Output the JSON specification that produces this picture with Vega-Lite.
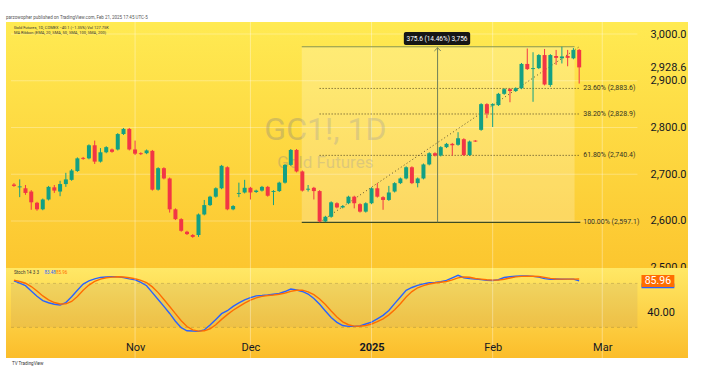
{
"$schema": "https://vega.github.io/schema/vega-lite/v6.json",
"width": 682, "height": 336,
"autosize": {"type": "none"},
"padding": {"left": 6, "top": 22, "right": 13, "bottom": 13},
"background": "#FFFFFF",
"title": {"text": "parzowopher published on TradingView.com, Feb 21, 2025 17:45 UTC-5", "anchor": "start", "frame": "group", "fontSize": 4.5, "font": "Roboto", "fontWeight": "normal", "color": "#555555", "offset": 2},
"view": {"stroke": null, "fill": {"gradient": "linear", "x1": 0, "y1": 0, "x2": 0, "y2": 1, "stops": [{"offset": 0, "color": "#FFEA52"}, {"offset": 0.73, "color": "#FCC62F"}, {"offset": 1, "color": "#FBBE2A"}]}},
"config": {"font": "Roboto", "axis": {"grid": false, "domain": false, "ticks": false, "labelFont": "Roboto", "labelFontSize": 11, "labelColor": "#131722", "titleFontSize": 0}, "view": {"stroke": null}},
"datasets": {
"bars": [
{"i":0,"o":2678,"h":2681,"l":2673,"c":2675,"k":83.4,"d":84.5},
{"i":1,"o":2672,"h":2689,"l":2651,"c":2674,"k":80.4,"d":82.5},
{"i":2,"o":2670,"h":2677,"l":2656,"c":2660,"k":76.9,"d":80.2},
{"i":3,"o":2663,"h":2666,"l":2624,"c":2640,"k":69.7,"d":75.7},
{"i":4,"o":2639,"h":2641,"l":2622,"c":2625,"k":62.5,"d":69.7},
{"i":5,"o":2625,"h":2648,"l":2623,"c":2646,"k":56.6,"d":62.9},
{"i":6,"o":2646,"h":2675,"l":2644,"c":2673,"k":53.6,"d":57.6},
{"i":7,"o":2672,"h":2677,"l":2660,"c":2665,"k":51.6,"d":53.9},
{"i":8,"o":2663,"h":2686,"l":2653,"c":2679,"k":50.5,"d":51.9},
{"i":9,"o":2679,"h":2703,"l":2673,"c":2689,"k":53.8,"d":52.0},
{"i":10,"o":2688,"h":2711,"l":2686,"c":2708,"k":61.8,"d":55.4},
{"i":11,"o":2707,"h":2736,"l":2705,"c":2734,"k":70.7,"d":62.1},
{"i":12,"o":2735,"h":2737,"l":2731,"c":2733,"k":79.0,"d":70.5},
{"i":13,"o":2734,"h":2764,"l":2732,"c":2762,"k":83.4,"d":77.7},
{"i":14,"o":2762,"h":2772,"l":2722,"c":2727,"k":86.1,"d":82.8},
{"i":15,"o":2727,"h":2756,"l":2725,"c":2747,"k":88.1,"d":85.9},
{"i":16,"o":2747,"h":2760,"l":2745,"c":2758,"k":88.7,"d":87.6},
{"i":17,"o":2753,"h":2755,"l":2746,"c":2748,"k":89.1,"d":88.6},
{"i":18,"o":2753,"h":2788,"l":2751,"c":2786,"k":89.1,"d":89.0},
{"i":19,"o":2786,"h":2799,"l":2784,"c":2797,"k":87.9,"d":88.7},
{"i":20,"o":2797,"h":2799,"l":2751,"c":2753,"k":86.2,"d":87.7},
{"i":21,"o":2753,"h":2772,"l":2741,"c":2744,"k":84.9,"d":86.3},
{"i":22,"o":2745,"h":2747,"l":2741,"c":2743,"k":81.3,"d":84.1},
{"i":23,"o":2745,"h":2753,"l":2743,"c":2751,"k":76.8,"d":81.0},
{"i":24,"o":2750,"h":2752,"l":2665,"c":2667,"k":67.4,"d":75.2},
{"i":25,"o":2667,"h":2715,"l":2665,"c":2713,"k":58.0,"d":67.4},
{"i":26,"o":2713,"h":2715,"l":2689,"c":2691,"k":48.6,"d":58.0},
{"i":27,"o":2691,"h":2693,"l":2618,"c":2625,"k":39.0,"d":48.5},
{"i":28,"o":2625,"h":2627,"l":2602,"c":2604,"k":28.4,"d":38.7},
{"i":29,"o":2604,"h":2606,"l":2577,"c":2579,"k":19.5,"d":29.0},
{"i":30,"o":2577,"h":2579,"l":2570,"c":2572,"k":15.3,"d":21.1},
{"i":31,"o":2570,"h":2572,"l":2564,"c":2566,"k":15.0,"d":16.6},
{"i":32,"o":2570,"h":2616,"l":2566,"c":2614,"k":14.5,"d":14.9},
{"i":33,"o":2614,"h":2645,"l":2612,"c":2634,"k":16.5,"d":15.3},
{"i":34,"o":2634,"h":2654,"l":2632,"c":2652,"k":23.2,"d":18.1},
{"i":35,"o":2652,"h":2672,"l":2650,"c":2670,"k":30.8,"d":23.5},
{"i":36,"o":2670,"h":2720,"l":2668,"c":2718,"k":38.7,"d":30.9},
{"i":37,"o":2715,"h":2717,"l":2623,"c":2625,"k":42.7,"d":37.4},
{"i":38,"o":2625,"h":2634,"l":2623,"c":2632,"k":48.7,"d":43.4},
{"i":39,"o":2658,"h":2682,"l":2651,"c":2660,"k":53.3,"d":48.2},
{"i":40,"o":2661,"h":2688,"l":2659,"c":2671,"k":57.4,"d":53.1},
{"i":41,"o":2671,"h":2673,"l":2646,"c":2661,"k":60.6,"d":57.1},
{"i":42,"o":2662,"h":2667,"l":2660,"c":2665,"k":62.9,"d":60.3},
{"i":43,"o":2665,"h":2675,"l":2663,"c":2673,"k":63.4,"d":62.3},
{"i":44,"o":2673,"h":2675,"l":2652,"c":2654,"k":64.1,"d":63.5},
{"i":45,"o":2662,"h":2666,"l":2634,"c":2664,"k":65.1,"d":64.2},
{"i":46,"o":2664,"h":2684,"l":2662,"c":2682,"k":66.2,"d":65.1},
{"i":47,"o":2682,"h":2722,"l":2680,"c":2720,"k":68.9,"d":66.7},
{"i":48,"o":2720,"h":2754,"l":2718,"c":2752,"k":72.3,"d":69.1},
{"i":49,"o":2752,"h":2754,"l":2704,"c":2706,"k":70.9,"d":70.7},
{"i":50,"o":2706,"h":2708,"l":2663,"c":2665,"k":69.0,"d":70.7},
{"i":51,"o":2667,"h":2677,"l":2663,"c":2669,"k":65.5,"d":68.5},
{"i":52,"o":2671,"h":2673,"l":2646,"c":2664,"k":59.5,"d":64.7},
{"i":53,"o":2664,"h":2666,"l":2597.1,"c":2599,"k":51.4,"d":58.8},
{"i":54,"o":2599,"h":2611,"l":2597.5,"c":2609,"k":42.3,"d":51.1},
{"i":55,"o":2609,"h":2642,"l":2607,"c":2640,"k":33.4,"d":42.4},
{"i":56,"o":2638,"h":2640,"l":2627,"c":2629,"k":26.9,"d":34.2},
{"i":57,"o":2629,"h":2634,"l":2627,"c":2632,"k":22.5,"d":27.6},
{"i":58,"o":2638,"h":2654,"l":2636,"c":2652,"k":21.3,"d":23.6},
{"i":59,"o":2652,"h":2654,"l":2627,"c":2638,"k":21.3,"d":21.7},
{"i":60,"o":2636,"h":2638,"l":2618,"c":2620,"k":22.0,"d":21.5},
{"i":61,"o":2620,"h":2640,"l":2618,"c":2638,"k":24.6,"d":22.6},
{"i":62,"o":2638,"h":2672,"l":2636,"c":2670,"k":27.1,"d":24.6},
{"i":63,"o":2670,"h":2681,"l":2650,"c":2652,"k":31.7,"d":27.8},
{"i":64,"o":2651,"h":2653,"l":2624,"c":2645,"k":36.4,"d":31.7},
{"i":65,"o":2645,"h":2675,"l":2643,"c":2661,"k":43.1,"d":37.1},
{"i":66,"o":2663,"h":2683,"l":2661,"c":2681,"k":52.4,"d":44.0},
{"i":67,"o":2681,"h":2693,"l":2679,"c":2691,"k":61.4,"d":52.3},
{"i":68,"o":2691,"h":2717,"l":2689,"c":2715,"k":70.5,"d":61.4},
{"i":69,"o":2715,"h":2717,"l":2679,"c":2681,"k":74.4,"d":68.8},
{"i":70,"o":2681,"h":2693,"l":2672,"c":2691,"k":77.2,"d":74.0},
{"i":71,"o":2691,"h":2723,"l":2689,"c":2721,"k":79.3,"d":77.0},
{"i":72,"o":2721,"h":2747,"l":2719,"c":2745,"k":80.9,"d":79.1},
{"i":73,"o":2745,"h":2747,"l":2738,"c":2740,"k":81.4,"d":80.5},
{"i":74,"o":2740,"h":2760,"l":2738,"c":2758,"k":82.4,"d":81.6},
{"i":75,"o":2758,"h":2767,"l":2756,"c":2765,"k":84.0,"d":82.6},
{"i":76,"o":2765,"h":2767,"l":2740,"c":2762,"k":87.6,"d":84.7},
{"i":77,"o":2763,"h":2790,"l":2761,"c":2777,"k":91.0,"d":87.5},
{"i":78,"o":2775,"h":2777,"l":2739,"c":2741,"k":87.7,"d":88.8},
{"i":79,"o":2741,"h":2772,"l":2739,"c":2770,"k":86.5,"d":88.4},
{"i":80,"o":2772,"h":2773,"l":2769,"c":2770,"k":85.8,"d":86.7},
{"i":81,"o":2795,"h":2852,"l":2793,"c":2850,"k":85.1,"d":85.8},
{"i":82,"o":2850,"h":2852,"l":2820,"c":2830,"k":84.2,"d":85.0},
{"i":83,"o":2847,"h":2852,"l":2801,"c":2850,"k":83.9,"d":84.4},
{"i":84,"o":2848,"h":2874,"l":2846,"c":2872,"k":85.0,"d":84.4},
{"i":85,"o":2872,"h":2884,"l":2870,"c":2882,"k":88.0,"d":85.6},
{"i":86,"o":2882,"h":2884,"l":2854,"c":2878,"k":89.0,"d":87.3},
{"i":87,"o":2878,"h":2886,"l":2876,"c":2884,"k":89.8,"d":88.9},
{"i":88,"o":2884,"h":2938,"l":2882,"c":2936,"k":90.0,"d":89.6},
{"i":89,"o":2936,"h":2969,"l":2923,"c":2925,"k":90.0,"d":89.9},
{"i":90,"o":2925,"h":2961,"l":2855,"c":2927,"k":89.5,"d":89.8},
{"i":91,"o":2927,"h":2957,"l":2925,"c":2955,"k":88.5,"d":89.3},
{"i":92,"o":2955,"h":2968,"l":2890,"c":2892,"k":86.5,"d":88.2},
{"i":93,"o":2891,"h":2957,"l":2887,"c":2955,"k":85.7,"d":86.9},
{"i":94,"o":2953,"h":2966,"l":2934,"c":2949,"k":85.9,"d":86.0},
{"i":95,"o":2948,"h":2972.7,"l":2937,"c":2952,"k":85.7,"d":85.8},
{"i":96,"o":2953,"h":2966,"l":2931,"c":2949,"k":85.8,"d":85.8},
{"i":97,"o":2948,"h":2970,"l":2946,"c":2966,"k":85.8,"d":85.8},
{"i":98,"o":2966,"h":2968,"l":2894,"c":2928.6,"k":83.48,"d":85.96}
],
"months": [{"m":21.0},{"m":41.0},{"m":62.0},{"m":83.0},{"m":102.0}],
"hgrid": [{"p":2600},{"p":2700},{"p":2800},{"p":2900},{"p":3000}],
"fib": [{"p":2883.6,"t":"23.60% (2,883.6)"},{"p":2828.9,"t":"38.20% (2,828.9)"},{"p":2740.4,"t":"61.80% (2,740.4)"},{"p":2597.1,"t":"100.00% (2,597.1)"}]
},
"data": {"name": "bars"},
"resolve": {"scale": {"y": "independent"}},
"layer": [
{
"layer": [
{"data": {"values": [{}]}, "mark": {"type": "rect", "fill": {"gradient": "linear", "x1": 0, "y1": 0, "x2": 0, "y2": 1, "stops": [{"offset": 0, "color": "#FFE866"}, {"offset": 1, "color": "#FBBD2A"}]}},
 "encoding": {"y": {"datum": 101, "type": "quantitative", "scale": {"domain": [-21.8, 436.6], "nice": false, "zero": false}, "axis": null}, "y2": {"datum": -21.8}}},
{"data": {"values": [{}]}, "mark": {"type": "rect", "fill": "#7A5E8A", "opacity": 0.1},
 "encoding": {"x": {"datum": -0.51, "type": "quantitative", "scale": {"domain": [-0.51, 116.0], "nice": false, "zero": false}}, "x2": {"datum": 108.1},
  "y": {"datum": 80, "type": "quantitative", "scale": {"domain": [-21.8, 436.6], "nice": false, "zero": false}, "axis": null}, "y2": {"datum": 20}}},
{"data": {"values": [{"v": 80}, {"v": 20}]}, "mark": {"type": "rule", "color": "#7A6A3A", "opacity": 0.3, "strokeDash": [3, 3], "strokeWidth": 1},
 "encoding": {"x": {"datum": -0.51, "type": "quantitative", "scale": {"domain": [-0.51, 116.0], "nice": false, "zero": false}}, "x2": {"datum": 108.1},
  "y": {"field": "v", "type": "quantitative", "title": null, "scale": {"domain": [-21.8, 436.6], "nice": false, "zero": false}, "axis": null}}},
{"mark": {"type": "line", "color": "#2962FF", "strokeWidth": 1.4},
 "encoding": {"x": {"field": "i", "type": "quantitative", "title": null, "scale": {"domain": [-0.51, 116.0], "nice": false, "zero": false}},
  "y": {"field": "k", "type": "quantitative", "title": null, "scale": {"domain": [-21.8, 436.6], "nice": false, "zero": false}, "axis": null}}},
{"mark": {"type": "line", "color": "#FF6D00", "strokeWidth": 1.4},
 "encoding": {"x": {"field": "i", "type": "quantitative", "title": null, "scale": {"domain": [-0.51, 116.0], "nice": false, "zero": false}},
  "y": {"field": "d", "type": "quantitative", "title": null, "scale": {"domain": [-21.8, 436.6], "nice": false, "zero": false}, "axis": null}}},
{"data": {"values": [{}]}, "mark": {"type": "rect", "fill": "#2962FF"},
 "encoding": {"x": {"datum": 108.8, "type": "quantitative", "scale": {"domain": [-0.51, 116.0], "nice": false, "zero": false}}, "x2": {"datum": 114.5},
  "y": {"datum": 80, "type": "quantitative", "scale": {"domain": [-21.8, 436.6], "nice": false, "zero": false}, "axis": null}, "y2": {"datum": 73.5}}},
{"data": {"values": [{}]}, "mark": {"type": "rect", "fill": "#FF6D00"},
 "encoding": {"x": {"datum": 108.8, "type": "quantitative", "scale": {"domain": [-0.51, 116.0], "nice": false, "zero": false}}, "x2": {"datum": 114.5},
  "y": {"datum": 91.4, "type": "quantitative", "scale": {"domain": [-21.8, 436.6], "nice": false, "zero": false}, "axis": null}, "y2": {"datum": 75}}},
{"data": {"values": [{}]}, "mark": {"type": "text", "text": "85.96", "color": "#FFFFFF", "fontSize": 10.5, "font": "Roboto", "align": "center", "baseline": "middle"},
 "encoding": {"x": {"datum": 111.65, "type": "quantitative", "scale": {"domain": [-0.51, 116.0], "nice": false, "zero": false}},
  "y": {"datum": 83.2, "type": "quantitative", "scale": {"domain": [-21.8, 436.6], "nice": false, "zero": false}, "axis": null}}},
{"data": {"values": [{}]}, "mark": {"type": "text", "text": "40.00", "color": "#131722", "fontSize": 11, "font": "Roboto", "align": "center", "baseline": "middle"},
 "encoding": {"x": {"datum": 112.2, "type": "quantitative", "scale": {"domain": [-0.51, 116.0], "nice": false, "zero": false}},
  "y": {"datum": 40, "type": "quantitative", "scale": {"domain": [-21.8, 436.6], "nice": false, "zero": false}, "axis": null}}},
{"data": {"values": [{}]}, "mark": {"type": "text", "text": "Stoch 14 3 3", "color": "#333333", "fontSize": 4.5, "font": "Roboto", "align": "left", "baseline": "middle"},
 "encoding": {"x": {"datum": 0, "type": "quantitative", "scale": {"domain": [-0.51, 116.0], "nice": false, "zero": false}},
  "y": {"datum": 94, "type": "quantitative", "scale": {"domain": [-21.8, 436.6], "nice": false, "zero": false}, "axis": null}}},
{"data": {"values": [{}]}, "mark": {"type": "text", "text": "83.48", "color": "#2962FF", "fontSize": 4.5, "font": "Roboto", "align": "left", "baseline": "middle"},
 "encoding": {"x": {"datum": 5.3, "type": "quantitative", "scale": {"domain": [-0.51, 116.0], "nice": false, "zero": false}},
  "y": {"datum": 94, "type": "quantitative", "scale": {"domain": [-21.8, 436.6], "nice": false, "zero": false}, "axis": null}}},
{"data": {"values": [{}]}, "mark": {"type": "text", "text": "85.96", "color": "#FF6D00", "fontSize": 4.5, "font": "Roboto", "align": "left", "baseline": "middle"},
 "encoding": {"x": {"datum": 7.3, "type": "quantitative", "scale": {"domain": [-0.51, 116.0], "nice": false, "zero": false}},
  "y": {"datum": 94, "type": "quantitative", "scale": {"domain": [-21.8, 436.6], "nice": false, "zero": false}, "axis": null}}}
]
},
{
"layer": [
{"data": {"name": "months"}, "mark": {"type": "rule", "color": "#FFFFFF", "opacity": 0.35, "strokeWidth": 1},
 "encoding": {"x": {"field": "m", "type": "quantitative", "title": null, "scale": {"domain": [-0.51, 116.0], "nice": false, "zero": false}}}},
{"data": {"name": "hgrid"}, "mark": {"type": "rule", "color": "#FFFFFF", "opacity": 0.3, "strokeWidth": 1},
 "encoding": {"x": {"datum": -0.51, "type": "quantitative", "scale": {"domain": [-0.51, 116.0], "nice": false, "zero": false}}, "x2": {"datum": 108.1},
  "y": {"field": "p", "type": "quantitative", "title": null, "scale": {"domain": [2306.9, 3025.7], "nice": false, "zero": false}}}},
{"data": {"values": [{}]}, "mark": {"type": "text", "text": "GC1!, 1D", "fontSize": 32, "font": "Roboto", "color": "#787B86", "opacity": 0.3, "align": "center", "baseline": "middle"},
 "encoding": {"x": {"datum": 54, "type": "quantitative", "scale": {"domain": [-0.51, 116.0], "nice": false, "zero": false}},
  "y": {"datum": 2794.7, "type": "quantitative", "scale": {"domain": [2306.9, 3025.7], "nice": false, "zero": false}}}},
{"data": {"values": [{}]}, "mark": {"type": "text", "text": "Gold Futures", "fontSize": 17, "font": "Roboto", "color": "#787B86", "opacity": 0.3, "align": "center", "baseline": "middle"},
 "encoding": {"x": {"datum": 54, "type": "quantitative", "scale": {"domain": [-0.51, 116.0], "nice": false, "zero": false}},
  "y": {"datum": 2724, "type": "quantitative", "scale": {"domain": [2306.9, 3025.7], "nice": false, "zero": false}}}},
{"data": {"values": [{}]}, "mark": {"type": "rect", "fill": "#FFFFFF", "opacity": 0.22},
 "encoding": {"x": {"datum": 49.9, "type": "quantitative", "scale": {"domain": [-0.51, 116.0], "nice": false, "zero": false}}, "x2": {"datum": 97.2},
  "y": {"datum": 2597.1, "type": "quantitative", "scale": {"domain": [2306.9, 3025.7], "nice": false, "zero": false}}, "y2": {"datum": 2972.7}}},
{"data": {"name": "fib"}, "transform": [{"filter": "datum.p > 2600"}], "mark": {"type": "rule", "color": "#4F4420", "strokeDash": [1, 2], "strokeWidth": 1},
 "encoding": {"x": {"datum": 53, "type": "quantitative", "scale": {"domain": [-0.51, 116.0], "nice": false, "zero": false}}, "x2": {"datum": 98.2},
  "y": {"field": "p", "type": "quantitative", "title": null, "scale": {"domain": [2306.9, 3025.7], "nice": false, "zero": false}}}},
{"data": {"values": [{}]}, "mark": {"type": "rule", "color": "#5A5030", "strokeDash": [1, 2.5], "strokeWidth": 1},
 "encoding": {"x": {"datum": 53, "type": "quantitative", "scale": {"domain": [-0.51, 116.0], "nice": false, "zero": false}}, "x2": {"datum": 98},
  "y": {"datum": 2597.1, "type": "quantitative", "scale": {"domain": [2306.9, 3025.7], "nice": false, "zero": false}}, "y2": {"datum": 2972.7}}},
{"data": {"name": "fib"}, "mark": {"type": "text", "align": "left", "baseline": "middle", "fontSize": 7, "font": "Roboto", "color": "#333322"},
 "encoding": {"x": {"datum": 98.7, "type": "quantitative", "scale": {"domain": [-0.51, 116.0], "nice": false, "zero": false}},
  "y": {"field": "p", "type": "quantitative", "title": null, "scale": {"domain": [2306.9, 3025.7], "nice": false, "zero": false}},
  "text": {"field": "t"}}},
{"data": {"values": [{}]}, "mark": {"type": "rule", "color": "#3D4B23", "strokeWidth": 1.3},
 "encoding": {"x": {"datum": 49.9, "type": "quantitative", "scale": {"domain": [-0.51, 116.0], "nice": false, "zero": false}}, "x2": {"datum": 98.2},
  "y": {"datum": 2597.1, "type": "quantitative", "scale": {"domain": [2306.9, 3025.7], "nice": false, "zero": false}}}},
{"data": {"values": [{}]}, "mark": {"type": "rule", "color": "#87954F", "strokeWidth": 1},
 "encoding": {"x": {"datum": 49.9, "type": "quantitative", "scale": {"domain": [-0.51, 116.0], "nice": false, "zero": false}}, "x2": {"datum": 97.2},
  "y": {"datum": 2972.7, "type": "quantitative", "scale": {"domain": [2306.9, 3025.7], "nice": false, "zero": false}}}},
{"data": {"values": [{}]}, "mark": {"type": "rule", "color": "#6F7F5A", "strokeWidth": 1},
 "encoding": {"x": {"datum": 73.45, "type": "quantitative", "scale": {"domain": [-0.51, 116.0], "nice": false, "zero": false}},
  "y": {"datum": 2597.1, "type": "quantitative", "scale": {"domain": [2306.9, 3025.7], "nice": false, "zero": false}}, "y2": {"datum": 2971}}},
{"data": {"values": [{}]}, "mark": {"type": "point", "shape": "M-1,1L0,0L1,1", "size": 40, "filled": false, "stroke": "#6F7F5A", "strokeWidth": 1, "opacity": 1},
 "encoding": {"x": {"datum": 73.45, "type": "quantitative", "scale": {"domain": [-0.51, 116.0], "nice": false, "zero": false}},
  "y": {"datum": 2970.5, "type": "quantitative", "scale": {"domain": [2306.9, 3025.7], "nice": false, "zero": false}}}},
{"mark": {"type": "rule", "strokeWidth": 1},
 "encoding": {"x": {"field": "i", "type": "quantitative", "title": null, "scale": {"domain": [-0.51, 116.0], "nice": false, "zero": false}},
  "y": {"field": "l", "type": "quantitative", "title": null, "scale": {"domain": [2306.9, 3025.7], "nice": false, "zero": false}},
  "y2": {"field": "h"},
  "color": {"condition": {"test": "datum.c >= datum.o", "value": "#12A084"}, "value": "#F23645"}}},
{"mark": {"type": "bar", "size": 4},
 "encoding": {"x": {"field": "i", "type": "quantitative", "title": null, "scale": {"domain": [-0.51, 116.0], "nice": false, "zero": false},
   "axis": {"orient": "bottom", "offset": -20, "values": [21, 41, 62, 83, 102], "labelExpr": "datum.value < 30 ? 'Nov' : datum.value < 50 ? 'Dec' : datum.value < 70 ? '2025' : datum.value < 90 ? 'Feb' : 'Mar'", "labelFontWeight": {"condition": {"test": "datum.value == 62", "value": "bold"}, "value": "normal"}, "labelPadding": 3, "zindex": 1, "labelFlush": false, "labelOverlap": false, "title": null}},
  "y": {"field": "o", "type": "quantitative", "title": null, "scale": {"domain": [2306.9, 3025.7], "nice": false, "zero": false},
   "axis": {"orient": "right", "offset": -46, "values": [2500, 2600, 2700, 2800, 2900, 2928.6, 3000], "format": ",.1f", "labelPadding": 8, "labelOverlap": false, "labelFlush": false, "title": null}},
  "y2": {"field": "c"},
  "color": {"condition": {"test": "datum.c >= datum.o", "value": "#12A084"}, "value": "#F23645"}}},
{"data": {"values": [{}]}, "mark": {"type": "rect", "fill": "#161616", "cornerRadius": 2},
 "encoding": {"x": {"datum": 67.6, "type": "quantitative", "scale": {"domain": [-0.51, 116.0], "nice": false, "zero": false}}, "x2": {"datum": 79.1},
  "y": {"datum": 2976.5, "type": "quantitative", "scale": {"domain": [2306.9, 3025.7], "nice": false, "zero": false}}, "y2": {"datum": 3004.3}}},
{"data": {"values": [{}]}, "mark": {"type": "text", "text": "375.6 (14.46%) 3,756", "color": "#FFFFFF", "fontSize": 6.5, "font": "Roboto", "align": "center", "baseline": "middle"},
 "encoding": {"x": {"datum": 73.35, "type": "quantitative", "scale": {"domain": [-0.51, 116.0], "nice": false, "zero": false}},
  "y": {"datum": 2990.4, "type": "quantitative", "scale": {"domain": [2306.9, 3025.7], "nice": false, "zero": false}}}},
{"data": {"values": [{}]}, "mark": {"type": "text", "text": "Gold Futures, 1D, COMEX  \u221240.1 (\u22121.35%)  Vol 127.75K", "color": "#333333", "fontSize": 4, "font": "Roboto", "align": "left", "baseline": "middle"},
 "encoding": {"x": {"datum": 0, "type": "quantitative", "scale": {"domain": [-0.51, 116.0], "nice": false, "zero": false}},
  "y": {"datum": 3012.2, "type": "quantitative", "scale": {"domain": [2306.9, 3025.7], "nice": false, "zero": false}}}},
{"data": {"values": [{}]}, "mark": {"type": "text", "text": "MA Ribbon (EMA, 20, SMA, 50, SMA, 100, SMA, 200)", "color": "#333333", "fontSize": 4, "font": "Roboto", "align": "left", "baseline": "middle"},
 "encoding": {"x": {"datum": 0, "type": "quantitative", "scale": {"domain": [-0.51, 116.0], "nice": false, "zero": false}},
  "y": {"datum": 3001.5, "type": "quantitative", "scale": {"domain": [2306.9, 3025.7], "nice": false, "zero": false}}}},
{"data": {"values": [{}]}, "mark": {"type": "text", "text": "TV TradingView", "color": "#333333", "fontSize": 4.5, "font": "Roboto", "align": "left", "baseline": "middle"},
 "encoding": {"x": {"datum": -0.34, "type": "quantitative", "scale": {"domain": [-0.51, 116.0], "nice": false, "zero": false}},
  "y": {"datum": 2294.1, "type": "quantitative", "scale": {"domain": [2306.9, 3025.7], "nice": false, "zero": false}}}}
]
}
]
}
